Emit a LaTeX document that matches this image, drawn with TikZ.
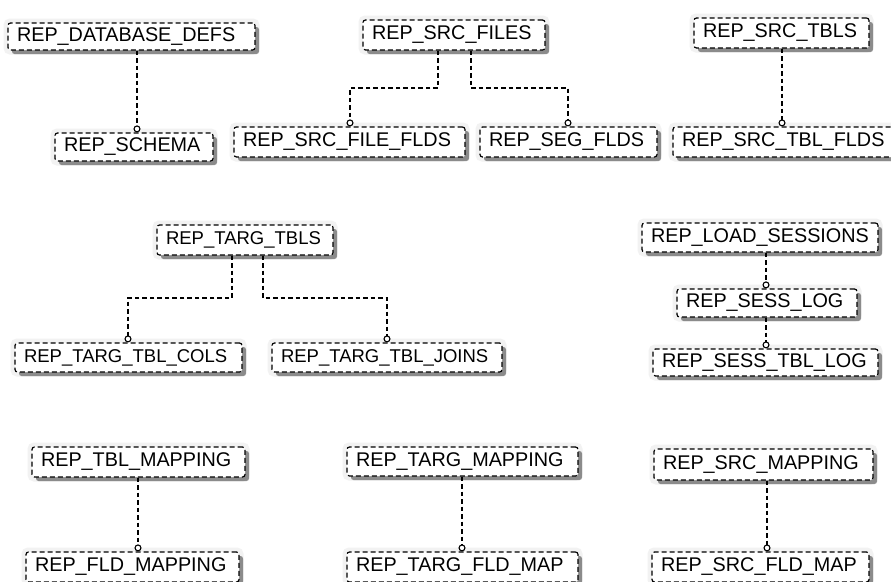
\documentclass[tikz,border=0pt]{standalone}
\usepackage{fontspec}
\setmainfont{Liberation Sans}
\usetikzlibrary{shadows,arrows.meta}
\begin{document}
\begin{tikzpicture}[x=1pt,y=-1pt,
  ebox/.style={draw=black, line width=1.2pt, dash pattern=on 5pt off 3pt, fill=white, rounded corners=2.5pt,
    preaction={draw=black!5, fill=black!5, solid, line width=9pt},
    drop shadow={shadow xshift=4pt, shadow yshift=-4pt, fill=black!85},
    minimum width=#1, text width=#1-18pt, inner xsep=9pt, align=flush left,
    font=\fontsize{19.8}{21}\selectfont, minimum height=29pt},
  small/.style={font=\fontsize{18.5}{20}\selectfont},
  conn/.style={draw=black, line width=1.2pt, dash pattern=on 4.5pt off 3pt, -{Circle[open,length=7pt,width=7pt,fill=white,line width=1.1pt]}}]
\useasboundingbox[fill=white] (0,0) rectangle (891,581);

% row 1
\node[ebox=247pt, minimum height=27pt] (dbdefs) at (131.5,36.5) {REP\_DATABASE\_DEFS};
\node[ebox=158pt, minimum height=28pt] (schema) at (134,147) {REP\_SCHEMA};
\node[ebox=182pt, minimum height=30pt] (srcfiles) at (454,35) {REP\_SRC\_FILES};
\node[ebox=231pt, minimum height=30pt] (srcfileflds) at (349.5,142) {REP\_SRC\_FILE\_FLDS};
\node[ebox=177pt, minimum height=30pt] (segflds) at (568.5,142) {REP\_SEG\_FLDS};
\node[ebox=175pt, minimum height=30pt] (srctbls) at (781.5,33) {REP\_SRC\_TBLS};
\node[ebox=236pt, minimum height=30pt] (srctblflds) at (791,142) {REP\_SRC\_TBL\_FLDS};

% row 2
\node[ebox=176pt, small, minimum height=30pt] (targtbls) at (245,240) {REP\_TARG\_TBLS};
\node[ebox=227pt, small, minimum height=29pt] (targtblcols) at (128.5,357.5) {REP\_TARG\_TBL\_COLS};
\node[ebox=230pt, small, minimum height=29pt] (targtbljoins) at (387,357.5) {REP\_TARG\_TBL\_JOINS};
\node[ebox=236pt, minimum height=29pt] (loadsess) at (760,237.5) {REP\_LOAD\_SESSIONS};
\node[ebox=180pt, minimum height=28pt] (sesslog) at (767,303) {REP\_SESS\_LOG};
\node[ebox=225pt, minimum height=27pt] (sesstbllog) at (765.5,362.5) {REP\_SESS\_TBL\_LOG};

% row 3
\node[ebox=213pt, minimum height=30pt] (tblmap) at (138.5,462) {REP\_TBL\_MAPPING};
\node[ebox=213pt, minimum height=30pt] (fldmap) at (132.5,567) {REP\_FLD\_MAPPING};
\node[ebox=231pt, minimum height=29pt] (targmap) at (462.5,461.5) {REP\_TARG\_MAPPING};
\node[ebox=231pt, minimum height=30pt] (targfldmap) at (462.5,567) {REP\_TARG\_FLD\_MAP};
\node[ebox=219pt, minimum height=31pt] (srcmap) at (763.5,464.5) {REP\_SRC\_MAPPING};
\node[ebox=217pt, minimum height=30pt] (srcfldmap) at (760.5,567) {REP\_SRC\_FLD\_MAP};

% connector coordinates
\coordinate (k1) at (137,0);
\coordinate (f1) at (438,88);
\coordinate (f2) at (350,88);
\coordinate (f3) at (471,88);
\coordinate (f4) at (568,88);
\coordinate (k2) at (782,0);
\coordinate (t1) at (232,298);
\coordinate (t2) at (128,298);
\coordinate (t3) at (263,298);
\coordinate (t4) at (387,298);
\coordinate (k3) at (766,0);
\coordinate (k4) at (138,0);
\coordinate (k5) at (462,0);
\coordinate (k6) at (767,0);

\draw[conn] (dbdefs.south -| k1) -- (schema.north -| k1);
\draw[conn] (srcfiles.south -| f1) -- (f1) -- (f2) -- (srcfileflds.north -| f2);
\draw[conn] (srcfiles.south -| f3) -- (f3) -- (f4) -- (segflds.north -| f4);
\draw[conn] (srctbls.south -| k2) -- (srctblflds.north -| k2);
\draw[conn] (targtbls.south -| t1) -- (t1) -- (t2) -- (targtblcols.north -| t2);
\draw[conn] (targtbls.south -| t3) -- (t3) -- (t4) -- (targtbljoins.north -| t4);
\draw[conn] (loadsess.south -| k3) -- (sesslog.north -| k3);
\draw[conn] (sesslog.south -| k3) -- (sesstbllog.north -| k3);
\draw[conn] (tblmap.south -| k4) -- (fldmap.north -| k4);
\draw[conn] (targmap.south -| k5) -- (targfldmap.north -| k5);
\draw[conn] (srcmap.south -| k6) -- (srcfldmap.north -| k6);
\end{tikzpicture}
\end{document}
